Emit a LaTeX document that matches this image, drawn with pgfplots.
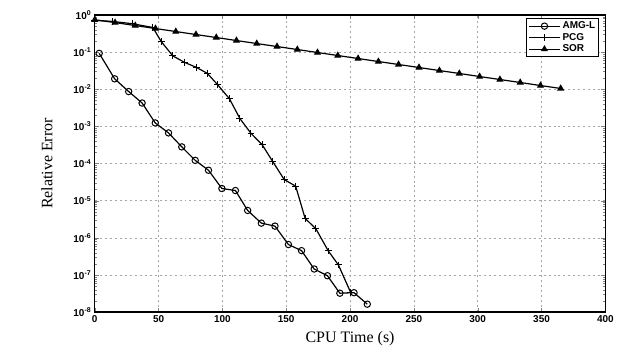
\documentclass[border=0pt]{standalone}
\usepackage{fontspec}
\setmainfont{Liberation Serif}
\setsansfont{Liberation Sans}
\usepackage{pgfplots}
\pgfplotsset{compat=1.18}
\begin{document}
\begin{tikzpicture}
\begin{axis}[
  name=ax,
  scale only axis,
  width=512pt, height=298pt,
  ymode=log,
  xmin=0, xmax=400, ymin=1e-8, ymax=1,
  xtick={0,50,...,400},
  ytick={1e-8,1e-7,1e-6,1e-5,1e-4,1e-3,1e-2,1e-1,1},
  yticklabels={10\textsuperscript{-8},10\textsuperscript{-7},10\textsuperscript{-6},10\textsuperscript{-5},10\textsuperscript{-4},10\textsuperscript{-3},10\textsuperscript{-2},10\textsuperscript{-1},10\textsuperscript{0}},
  /pgf/number format/assume math mode=true,
  tick label style={font=\sffamily\bfseries\fontsize{10}{10}\selectfont},
  xlabel={CPU Time (s)},
  ylabel={Relative Error},
  label style={font=\fontsize{16}{16}\selectfont},
  xlabel style={yshift=-2pt},
  ylabel style={yshift=14pt},
  tick align=inside,
  axis line style={line width=1.4pt},
  major tick length=4pt,
  minor tick length=2pt,
  grid=major,
  major grid style={dash pattern=on 2pt off 3pt, gray!70, line width=0.5pt},
  legend style={at={(0.988,0.99)}, anchor=north east, draw=black, line width=1pt,
    font=\sffamily\bfseries\fontsize{10}{10}\selectfont, inner sep=1.5pt, row sep=-1pt,
    legend cell align=left},
  legend image code/.code={
    \draw[#1] (0cm,0cm) -- (1.1cm,0cm);
    \draw[#1, only marks] plot coordinates {(0.55cm,0cm)};},
  legend image post style={line width=1pt},
]
\addplot[black, line width=1.2pt, mark=o, mark size=3.2pt, mark options={line width=1pt}] coordinates {
(3.5,0.0925) (15.6,0.0191) (26.6,8.67e-3) (37.1,4.26e-3) (47.4,1.24e-3) (57.8,6.68e-4)
(68.2,2.81e-4) (78.7,1.22e-4) (89.1,6.61e-5) (99.6,2.13e-5) (110.2,1.88e-5) (119.8,5.47e-6)
(130.5,2.49e-6) (141.2,2.07e-6) (151.7,6.61e-7) (162,4.53e-7) (171.9,1.45e-7) (182.3,9.55e-8)
(192,3.24e-8) (203.1,3.34e-8) (213.5,1.64e-8)
};
\addlegendentry{AMG-L}
\addplot[black, line width=1.2pt, mark=+, mark size=3.5pt, mark options={line width=1pt}] coordinates {
(0,0.72) (14,0.67) (29.7,0.58) (45.5,0.46) (52.1,0.192) (61.2,0.079) (70.3,0.053)
(79.5,0.039) (88.1,0.0269) (96.3,0.0132) (105.5,5.56e-3) (113.7,1.63e-3) (122.4,6.5e-4)
(131.1,3.24e-4) (139.3,1.15e-4) (148.4,3.72e-5) (157.4,2.46e-5) (164.8,3.34e-6)
(173.2,1.76e-6) (183,4.43e-7) (190.9,1.86e-7) (200.5,3.38e-8)
};
\addlegendentry{PCG}
\addplot[black, line width=1.2pt, mark=triangle*, mark size=3pt] coordinates {
(0,0.74) (15.9,0.624) (31.7,0.519) (47.6,0.431) (63.5,0.358) (79.3,0.297) (95.2,0.247)
(111,0.205) (126.9,0.170) (142.8,0.1413) (158.7,0.1174) (174.5,0.0975) (190.4,0.0810)
(206.3,0.0672) (222.2,0.0558) (238,0.0464) (254,0.0385) (270,0.0319) (285.6,0.0266)
(301.5,0.0220) (317.4,0.0183) (333.3,0.0152) (349.2,0.0126) (365,0.0105)
};
\addlegendentry{SOR}
\end{axis}
\path ([xshift=-95pt,yshift=-40pt]ax.south west) rectangle ([xshift=10pt,yshift=15pt]ax.north east);
\end{tikzpicture}
\end{document}
